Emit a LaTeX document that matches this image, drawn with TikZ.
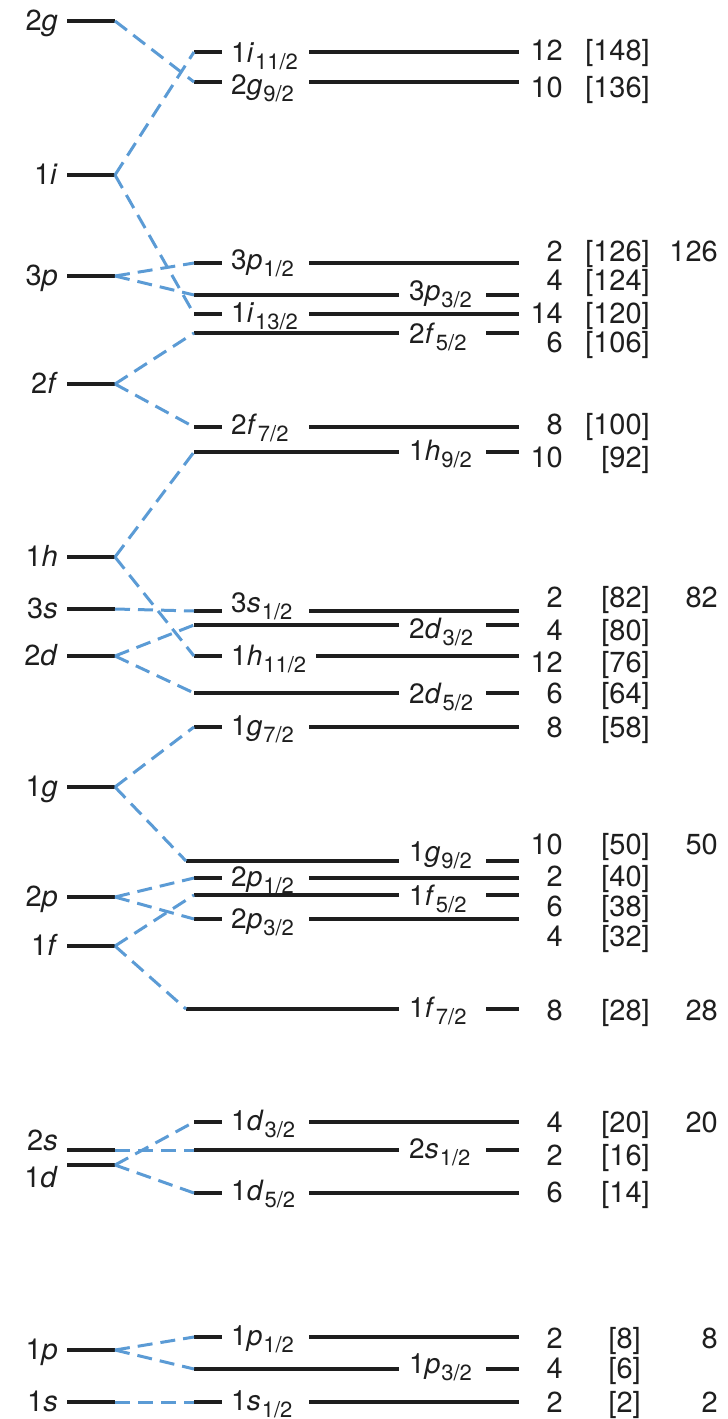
\documentclass[tikz,border=0pt]{standalone}
\usepackage{fontspec}
\setmainfont{TeX Gyre Heros}
\definecolor{dashblue}{RGB}{91,155,213}
\definecolor{ink}{RGB}{30,30,30}
\tikzset{
  lev/.style={draw=ink, line width=3.3pt},
  conn/.style={draw=dashblue, line width=3pt, dash pattern=on 15pt off 8pt},
  lname/.style={anchor=base east, inner sep=0pt, text=ink, font=\fontsize{29}{29}\selectfont},
  slab/.style={anchor=base west, inner sep=0pt, text=ink, font=\fontsize{28}{28}\selectfont},
  num/.style={anchor=base east, inner sep=0pt, text=ink, font=\fontsize{29}{29}\selectfont},
}
\newcommand\orb[3]{#1\textit{#2}\kern1pt\raisebox{-7pt}{\fontsize{22}{22}\selectfont #3}}
% left (unsplit) level: name, y, text, baseline offset
\newcommand\lvlS[4]{%
  \draw[lev] (67,#2) -- (115,#2) coordinate (#1);
  \node[lname] (#1-t) at (58,#2+#4) {#3};}
% split level, label on the left: name, y, xstart, text, offset, resume x
\newcommand\lvlL[6]{%
  \draw[lev] (#3,#2) coordinate (#1) -- (222,#2) (#6,#2) -- (519,#2);
  \node[slab] (#1-t) at (231,#2+#5) {#4};}
% split level, label on the right: name, y, xstart, text, offset
\newcommand\lvlR[5]{%
  \draw[lev] (#3,#2) coordinate (#1) -- (399,#2) (486,#2) -- (519,#2);
  \node[slab] (#1-t) at (409,#2+#5) {#4};}
% number row: id, degeneracy, bracket, bracket right x, baseline
\newcommand\numrow[5]{%
  \node[num] (d#1) at (563,#5) {#2};
  \node[num] (b#1) at (#4,#5) {[#3]};}
\begin{document}
\begin{tikzpicture}[x=1pt,y=-1pt]
\useasboundingbox (0,0) rectangle (728,1419);
% unsplit levels
\lvlS{L2g}{21}{2\textit{g}}{9.5}
\lvlS{L1i}{175}{1\textit{i}}{9.5}
\lvlS{L3p}{276}{3\textit{p}}{9.5}
\lvlS{L2f}{384}{2\textit{f}}{9.5}
\lvlS{L1h}{557}{1\textit{h}}{9.5}
\lvlS{L3s}{609}{3\textit{s}}{9.5}
\lvlS{L2d}{656}{2\textit{d}}{9.5}
\lvlS{L1g}{787}{1\textit{g}}{9.5}
\lvlS{L2p}{897}{2\textit{p}}{9.5}
\lvlS{L1f}{946}{1\textit{f}}{9.5}
\lvlS{L2s}{1150}{2\textit{s}}{0}
\lvlS{L1d}{1165}{1\textit{d}}{22}
\lvlS{L1p}{1350}{1\textit{p}}{9.5}
\lvlS{L1s}{1402}{1\textit{s}}{9.5}
% split levels
\lvlL{i11}{52}{194}{\orb{1}{i}{11/2}}{10}{309}
\lvlL{g9b}{82}{194}{\orb{2}{g}{9/2}}{12}{309}
\lvlL{p1c}{263}{194}{\orb{3}{p}{1/2}}{6}{309}
\lvlR{p3c}{295}{194}{\orb{3}{p}{3/2}}{5}
\lvlL{i13}{314}{194}{\orb{1}{i}{13/2}}{8}{309}
\lvlR{f5b}{333}{194}{\orb{2}{f}{5/2}}{10}
\lvlL{f7b}{427}{194}{\orb{2}{f}{7/2}}{7}{309}
\lvlR{h9}{452}{194}{\orb{1}{h}{9/2}}{8}
\lvlL{s1c}{611}{194}{\orb{3}{s}{1/2}}{1}{309}
\lvlR{d3b}{625}{194}{\orb{2}{d}{3/2}}{13}
\lvlL{h11}{656}{194}{\orb{1}{h}{11/2}}{9}{316}
\lvlR{d5b}{693}{194}{\orb{2}{d}{5/2}}{10}
\lvlL{g7}{727}{194}{\orb{1}{g}{7/2}}{8}{309}
\lvlR{g9a}{861}{186}{\orb{1}{g}{9/2}}{0}
\lvlL{p1b}{878}{194}{\orb{2}{p}{1/2}}{8}{309}
\lvlR{f5a}{895}{194}{\orb{1}{f}{5/2}}{10}
\lvlL{p3b}{919}{194}{\orb{2}{p}{3/2}}{9}{309}
\lvlR{f7a}{1009}{186}{\orb{1}{f}{7/2}}{8}
\lvlL{d3a}{1122}{194}{\orb{1}{d}{3/2}}{8}{309}
\lvlR{s1b}{1150}{194}{\orb{2}{s}{1/2}}{8}
\lvlL{d5a}{1193}{194}{\orb{1}{d}{5/2}}{7}{309}
\lvlL{p1a}{1337}{194}{\orb{1}{p}{1/2}}{8}{309}
\lvlR{p3a}{1369}{194}{\orb{1}{p}{3/2}}{4}
\lvlL{s1a}{1402}{194}{\orb{1}{s}{1/2}}{8}{309}
% connectors
\foreach \a/\b in {L2g/g9b, L1i/i11, L1i/i13, L3p/p1c, L3p/p3c, L2f/f5b, L2f/f7b,
  L1h/h9, L1h/h11, L3s/s1c, L2d/d3b, L2d/d5b, L1g/g7, L1g/g9a, L2p/p1b, L2p/p3b,
  L1f/f5a, L1f/f7a, L2s/s1b, L1d/d3a, L1d/d5a, L1p/p1a, L1p/p3a, L1s/s1a}
  \draw[conn] (\a) -- (\b);
% numbers
\numrow{1}{12}{148}{650}{60}
\numrow{2}{10}{136}{650}{97}
\numrow{3}{2}{126}{650}{261}
\numrow{4}{4}{124}{650}{290}
\numrow{5}{14}{120}{650}{323}
\numrow{6}{6}{106}{650}{352}
\numrow{7}{8}{100}{650}{434}
\numrow{8}{10}{92}{650}{467}
\numrow{9}{2}{82}{650}{607}
\numrow{10}{4}{80}{650}{640}
\numrow{11}{12}{76}{650}{672}
\numrow{12}{6}{64}{650}{703}
\numrow{13}{8}{58}{650}{737}
\numrow{14}{10}{50}{650}{854}
\numrow{15}{2}{40}{650}{886}
\numrow{16}{6}{38}{650}{916}
\numrow{17}{4}{32}{650}{946}
\numrow{18}{8}{28}{650}{1020}
\numrow{19}{4}{20}{650}{1132}
\numrow{20}{2}{16}{650}{1165}
\numrow{21}{6}{14}{650}{1202}
\numrow{22}{2}{8}{641}{1348}
\numrow{23}{4}{6}{641}{1378}
\numrow{24}{2}{2}{641}{1412}
% magic numbers
\node[num] (m126) at (718,261) {126};
\node[num] (m82) at (718,607) {82};
\node[num] (m50) at (718,854) {50};
\node[num] (m28) at (718,1020) {28};
\node[num] (m20) at (718,1132) {20};
\node[num] (m8) at (718,1348) {8};
\node[num] (m2) at (718,1412) {2};
\end{tikzpicture}
\end{document}
